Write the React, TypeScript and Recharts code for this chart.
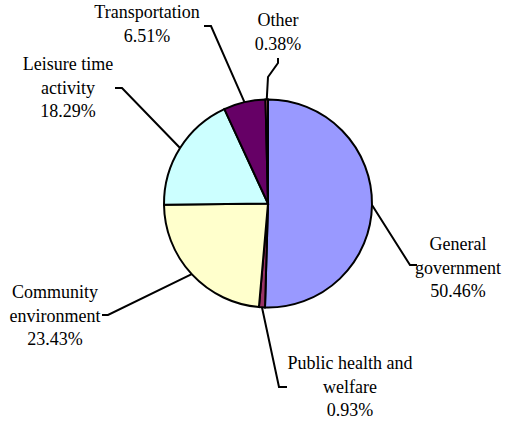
import React from 'react';
import { PieChart, Pie, Cell } from 'recharts';

const categories = [
  'General government',
  'Public health and welfare',
  'Community environment',
  'Leisure time activity',
  'Transportation',
  'Other',
];
const shares = [50.46, 0.93, 23.43, 18.29, 6.51, 0.38];
const nameLines = [
  ['General', 'government'],
  ['Public health and', 'welfare'],
  ['Community', 'environment'],
  ['Leisure time', 'activity'],
  ['Transportation'],
  ['Other'],
];
const colors = ['#9999FF', '#993366', '#FFFFCC', '#CCFFFF', '#660066', '#FF8080'];

// label placement (layout only)
const LAYOUT = [
  { path: [[410, 265], [417, 265]], x: 458, y: 250 },
  { path: [[279, 387], [287, 387]], x: 350, y: 369 },
  { path: [[108, 315], [102, 315]], x: 55, y: 298 },
  { path: [[122, 88], [115, 88]], x: 68, y: 70 },
  { path: [[211, 26], [204, 26]], x: 147, y: 18 },
  { path: [[268, 77], [278, 63], [278, 58]], x: 278, y: 26 },
];

const data = categories.map((name, i) => ({ name, value: shares[i] }));

const renderLeader = (props: any) => {
  const { cx, cy, midAngle, outerRadius, index } = props;
  const rad = Math.PI / 180;
  const sx = cx + outerRadius * Math.cos(-midAngle * rad);
  const sy = cy + outerRadius * Math.sin(-midAngle * rad);
  const L = LAYOUT[index];
  const pts = [[sx, sy], ...L.path].map((p) => p.join(',')).join(' ');
  return <polyline key={'ld' + index} points={pts} fill="none" stroke="#000" strokeWidth={2} />;
};

export default function App() {
  return (
    <div style={{ position: 'absolute', left: 0, top: 0, width: 507, height: 422, background: '#fff' }}>
      <PieChart width={507} height={422} margin={{ top: 0, right: 0, bottom: 0, left: 0 }}>
        <Pie
          data={data}
          dataKey="value"
          nameKey="name"
          cx={268}
          cy={203.5}
          outerRadius={104}
          startAngle={90}
          endAngle={-270}
          stroke="#000"
          strokeWidth={2}
          isAnimationActive={false}
          labelLine={false}
          label={renderLeader}
        >
          {data.map((d, i) => (
            <Cell key={d.name} fill={colors[i]} stroke="#000" strokeWidth={2} />
          ))}
        </Pie>
      </PieChart>
      <svg
        width={507}
        height={422}
        style={{ position: 'absolute', left: 0, top: 0, pointerEvents: 'none' }}
      >
        {categories.map((c, idx) => {
          const L = LAYOUT[idx];
          const lines = [...nameLines[idx], shares[idx].toFixed(2) + '%'];
          return lines.map((t, i) => (
            <text
              key={c + i}
              x={L.x}
              y={L.y + i * 23.5}
              textAnchor="middle"
              style={{ fontFamily: 'Times New Roman', fontSize: 18, fill: '#000' }}
            >
              {t}
            </text>
          ));
        })}
      </svg>
    </div>
  );
}
